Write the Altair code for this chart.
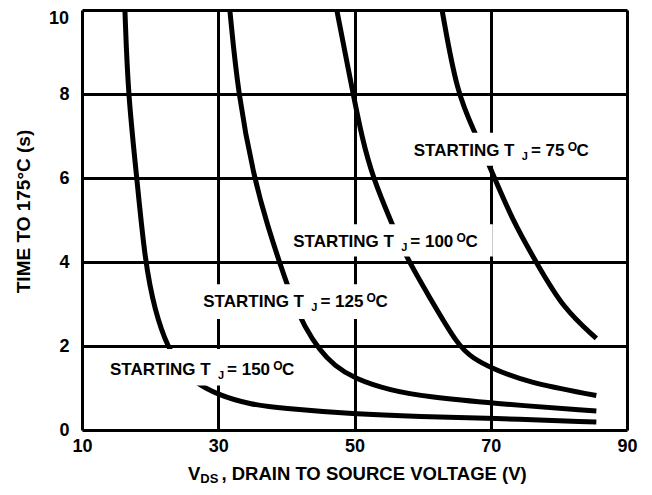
import altair as alt
import pandas as pd

# ---------------- data ----------------
x_ticks = [10, 30, 50, 70, 90]
y_ticks = [0, 2, 4, 6, 8, 10]

v150 = [16.3, 16.75, 18.05, 19.25, 20.7, 22.6, 24.4, 26.3, 30, 34.7, 39.1, 49.9, 59.6, 69.9, 85.5]
t150 = [10, 8, 6, 4, 2.83, 1.96, 1.5, 1.16, 0.83, 0.61, 0.52, 0.38, 0.32, 0.28, 0.19]

v125 = [31.7, 32.9, 35.25, 37.3, 39.2, 40.97, 42.6, 44.9, 47.1, 49.9, 55.2, 61.1, 69.9, 85.5]
t125 = [10, 8, 6, 4.83, 3.89, 3.07, 2.48, 1.89, 1.53, 1.23, 0.94, 0.78, 0.64, 0.45]

v100 = [47.4, 49.8, 51.1, 52.7, 55.5, 57.7, 61.1, 65.2, 67.5, 69.9, 75.3, 85.5]
t100 = [10, 8, 6.96, 6.0, 4.91, 4.08, 3.14, 2.0, 1.7, 1.49, 1.13, 0.82]

v75 = [62.85, 65.05, 67.7, 69.9, 73.3, 76.8, 80.6, 85.5]
t75 = [10, 8, 7.08, 6.25, 4.95, 3.96, 2.9, 2.18]

series_names = ["150", "125", "100", "75"]

# label anchors (text start, vertical middle) and white boxes behind them
label_temp = ["75", "100", "125", "150"]
label_v = [58.7, 41.0, 27.8, 14.1]
label_t = [6.65, 4.48, 3.04, 1.42]
box_v1 = [58.0, 40.3, 27.1, 13.4]
box_v2 = [85.9, 70.3, 56.5, 42.7]
box_t1 = [6.29, 4.13, 2.64, 1.06]
box_t2 = [7.08, 4.90, 3.47, 1.93]

# ---------------- layout / style ----------------
PAD_TOP = 2
W, H = 545, 422 - PAD_TOP
FONT = "Liberation Sans, Arial, Helvetica, sans-serif"
F = 17        # label font
FS = 11       # subscript
FO = 12       # superscript "O"
AW = {' ': 278, 'S': 667, 'T': 611, 'A': 722, 'R': 722, 'I': 278, 'N': 722,
      'G': 778, 'J': 556, '=': 584, 'O': 778, 'C': 722, 'D': 722, 'V': 667,
      ',': 278, '0': 556, '1': 556, '2': 556, '5': 556, '7': 556}


def tw(s, size):
    return sum(AW.get(c, 600) for c in s) / 1000.0 * size


x_scale = alt.Scale(domain=[10, 90], nice=False, zero=False)
y_scale = alt.Scale(domain=[0, 10], nice=False, zero=False)

rows = []
for name, vs, ts in zip(series_names, [v150, v125, v100, v75], [t150, t125, t100, t75]):
    for i, (v, t) in enumerate(zip(vs, ts)):
        rows.append({"series": name, "v": v, "t": t, "order": i})
df = pd.DataFrame(rows)

top_val = y_ticks[-1]

x_axis = alt.Axis(values=x_ticks, grid=True, gridColor="black", gridWidth=3, gridOpacity=1,
                  ticks=False, tickSize=0, domain=False, labelFont=FONT, labelFontSize=18,
                  labelFontWeight="bold", labelColor="black", labelPadding=7,
                  labelFlush=False, labelOverlap=False, title=None)
y_axis = alt.Axis(values=y_ticks, grid=True, gridColor="black", gridWidth=3, gridOpacity=1,
                  ticks=False, tickSize=0, domain=False, labelFont=FONT, labelFontSize=18,
                  labelFontWeight="bold", labelColor="black", labelPadding=13,
                  labelOverlap=False, labelExpr=f"datum.value == {top_val} ? '' : datum.label",
                  title="TIME TO 175°C (s)", titleFont=FONT,
                  titleFontSize=19, titleFontWeight="bold", titleColor="black",
                  titleAngle=270, titleX=-59, titleY=211 - 8 - PAD_TOP,
                  titleAlign="center", titleBaseline="middle")

curves = alt.Chart(df).mark_line(color="black", strokeWidth=5, interpolate="basis").encode(
    x=alt.X("v:Q", scale=x_scale, axis=x_axis),
    y=alt.Y("t:Q", scale=y_scale, axis=y_axis),
    detail="series:N",
    order="order:Q",
)

box_df = pd.DataFrame({"v1": box_v1, "v2": box_v2, "t1": box_t1, "t2": box_t2})
boxes = alt.Chart(box_df).mark_rect(color="white").encode(
    x=alt.X("v1:Q", scale=x_scale), x2="v2:Q",
    y=alt.Y("t1:Q", scale=y_scale), y2="t2:Q",
)

# top tick label, nudged down so it stays inside the page
top_label = alt.Chart(pd.DataFrame({"t": [top_val], "lab": [str(top_val)]})).mark_text(
    align="right", baseline="middle", dy=9, font=FONT, fontSize=18, fontWeight="bold",
    color="black").encode(x=alt.value(-13), y=alt.Y("t:Q", scale=y_scale), text="lab:N")

layers = [curves, boxes, top_label]

# curve labels: STARTING T_J = NN°C with sub/superscripts
for temp, lv, lt in zip(label_temp, label_v, label_t):
    d = pd.DataFrame({"v": [lv], "t": [lt]})
    dx_j = tw("STARTING T", F) + 6
    dx_eq = dx_j + tw("J", FS) + 3
    rest = " = " + temp
    dx_o = dx_eq + tw(rest, F) - 1.5
    dx_c = dx_o + tw("O", FO) - 0.5
    pieces = [("STARTING T", 0, 0, F), ("J", dx_j, 6, FS), (rest, dx_eq, 0, F),
              ("O", dx_o, -4, FO), ("C", dx_c, 0, F)]
    for txt, dx, dy, size in pieces:
        layers.append(
            alt.Chart(d).mark_text(text=txt, align="left", baseline="middle", dx=dx, dy=dy,
                                   font=FONT, fontSize=size, fontWeight="bold", color="black")
            .encode(x=alt.X("v:Q", scale=x_scale), y=alt.Y("t:Q", scale=y_scale))
        )

# x axis title with subscript
one = pd.DataFrame({"a": [0]})
XT = 18.5
x0 = 106
xt_pieces = [("V", x0, 0, XT), ("DS", x0 + tw("V", XT), 5, 13),
             (", DRAIN TO SOURCE VOLTAGE (V)", x0 + tw("V", XT) + tw("DS", 13) + 3, 0, XT)]
for txt, xp, dy, size in xt_pieces:
    layers.append(
        alt.Chart(one).mark_text(text=txt, align="left", baseline="middle", dy=dy,
                                 font=FONT, fontSize=size, fontWeight="bold", color="black")
        .encode(x=alt.value(xp), y=alt.value(474 - 8 - PAD_TOP))
    )

chart = alt.layer(*layers).properties(
    width=W, height=H,
    autosize=alt.AutoSizeParams(type="none"),
    padding={"left": 74, "top": PAD_TOP, "right": 17, "bottom": 495 - 16 - PAD_TOP - H},
).configure_view(stroke="black", strokeWidth=4).configure(background="white")

chart.save("out.html", embed_options={"renderer": "svg", "actions": False})
